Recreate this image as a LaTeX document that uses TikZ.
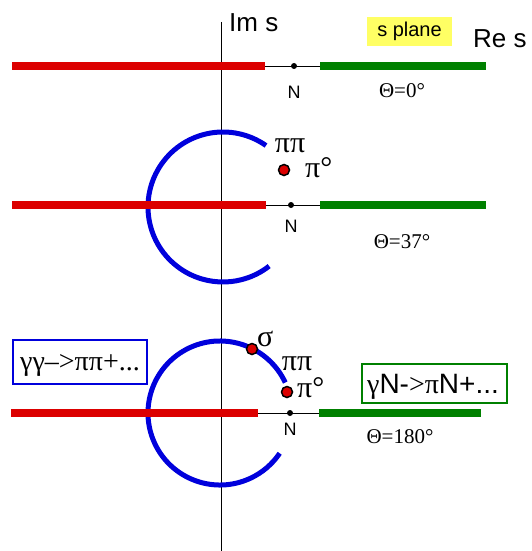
\documentclass[tikz,border=0pt]{standalone}
\usepackage{fontspec}
\setmainfont{Liberation Serif}
\newfontfamily\arial{Liberation Sans}
\definecolor{cred}{RGB}{220,0,0}
\definecolor{cgreen}{RGB}{0,128,0}
\definecolor{cblue}{RGB}{0,0,220}
\definecolor{cyel}{RGB}{255,255,100}
\begin{document}
\begin{tikzpicture}[x=1pt,y=-1pt,
  redcut/.style={cred,line width=8pt},
  greencut/.style={cgreen,line width=8pt},
  thin/.style={black,line width=1pt},
  bluearc/.style={cblue,line width=5pt},
  pole/.style={circle,fill=black,inner sep=0pt,minimum size=6pt},
  reddot/.style={circle,fill=cred,draw=black,line width=1.5pt,inner sep=0pt,minimum size=11pt},
  sans/.style={font=\arial\fontsize{#1}{#1}\selectfont,inner sep=0pt},
  serif/.style={font=\fontsize{#1}{#1}\selectfont,inner sep=0pt},
]
\useasboundingbox (0,0) rectangle (531,551);
% axis
\coordinate (axt) at (221,22);
\coordinate (axb) at (221,551);
\draw[thin] (axt) -- (axb);
% arcs
\coordinate (c2) at (223,207);
\coordinate (c3) at (220,413);
\draw[bluearc] (c2) ++(55:75pt) arc[start angle=55,end angle=308,radius=75pt];
\draw[bluearc] (c3) ++(25:72pt) arc[start angle=25,end angle=326,radius=72pt];
% row 1
\coordinate (r1a) at (12,66); \coordinate (r1b) at (265,66);
\coordinate (g1a) at (320,66); \coordinate (g1b) at (486,66);
\draw[thin] (r1b) -- (g1a);
\draw[redcut] (r1a) -- (r1b);
\draw[greencut] (g1a) -- (g1b);
\node[pole] (p1) at (294,66) {};
% row 2
\coordinate (r2a) at (12,205); \coordinate (r2b) at (266,205);
\coordinate (g2a) at (320,205); \coordinate (g2b) at (486,205);
\draw[thin] (r2b) -- (g2a);
\draw[redcut] (r2a) -- (r2b);
\draw[greencut] (g2a) -- (g2b);
\node[pole] (p2) at (291,205) {};
\node[reddot] (d2) at (284,170) {};
% row 3
\coordinate (r3a) at (11,413); \coordinate (r3b) at (258,413);
\coordinate (g3a) at (319,413); \coordinate (g3b) at (481,413);
\draw[thin] (r3b) -- (g3a);
\draw[redcut] (r3a) -- (r3b);
\draw[greencut] (g3a) -- (g3b);
\node[pole] (p3) at (290,413) {};
\node[reddot] (ds) at (252,349) {};
\node[reddot] (d3) at (287,392) {};
% labels
\node[sans=26,anchor=base west] (ims) at (229,32) {Im s};
\node[sans=26,anchor=base west] (res) at (473,48) {Re s};
\node[sans=20,fill=cyel,minimum width=85pt,minimum height=29pt] (sp) at (409.5,31.5) {s plane};
\node[sans=18,anchor=base] (n1) at (294,98) {N};
\node[serif=21,anchor=base] (t1) at (402,97) {Θ=0°};
\node[serif=30,anchor=base] (pp2) at (290,152) {ππ};
\node[serif=30,anchor=base west] (pz2) at (305,177) {π°};
\node[sans=18,anchor=base] (n2) at (291,232) {N};
\node[serif=21,anchor=base] (t2) at (402,248) {Θ=37°};
\node[serif=30,anchor=base west] (sg) at (257,346) {σ};
\node[serif=30,anchor=base] (pp3) at (297,370) {ππ};
\node[serif=30,anchor=base west] (pz3) at (297,397) {π°};
\node[sans=18,anchor=base] (n3) at (290,435) {N};
\node[serif=21,anchor=base] (t3) at (400,443) {Θ=180°};
\node[draw=cblue,line width=2pt,minimum width=134pt,minimum height=44pt,inner sep=0pt] (bx1) at (80,362) {};
\node[serif=28,anchor=base] (bt1) at (80,370) {γγ–>ππ+...};
\node[draw=cgreen,line width=2pt,minimum width=145pt,minimum height=39pt,inner sep=0pt] (bx2) at (434.5,383.5) {};
\node[anchor=base,inner sep=0pt,font=\fontsize{28}{28}\selectfont] (bt2) at (433,393) {γ{\arial N-}>π{\arial N+...}};
\end{tikzpicture}
\end{document}
